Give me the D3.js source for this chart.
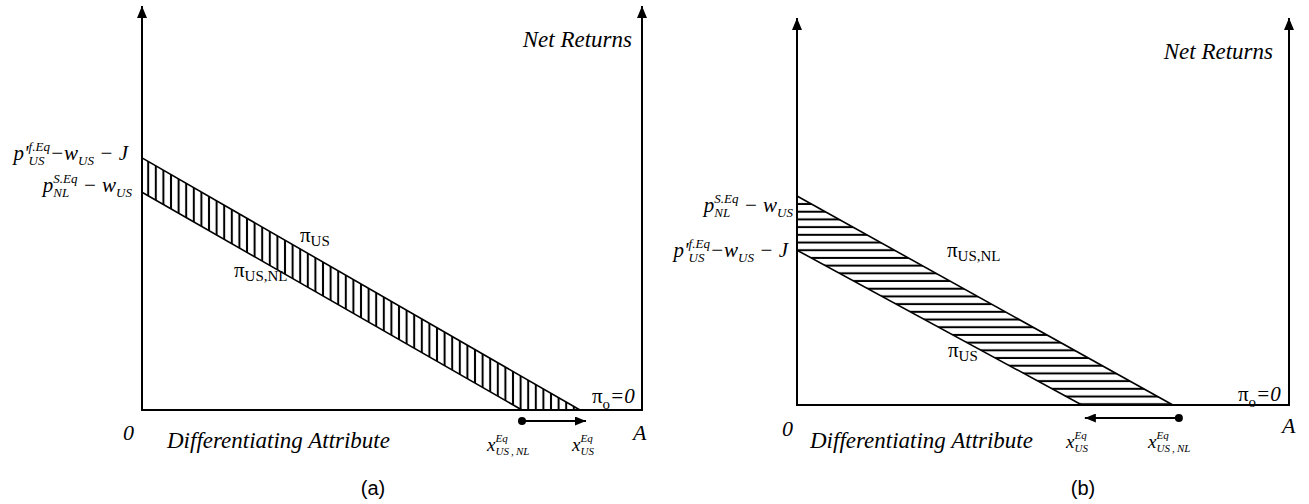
<!DOCTYPE html>
<html>
<head>
<meta charset="utf-8">
<script src="https://cdn.jsdelivr.net/npm/d3@7"></script>
<style>
  body { margin: 0; background: #fff; }
  svg { display: block; }
</style>
</head>
<body>
<svg id="chart" width="1309" height="504"></svg>
<script>
// values (share of axis length, 0..100)
const captions = ["(a)", "(b)"]
const axisLabels = ["Differentiating Attribute", "Net Returns"]
// vertical-axis intercepts: [pi_US, pi_US,NL]
const yIntercepts_a = [62.4, 53.9]
const yIntercepts_b = [40.0, 54.0]
// horizontal-axis intercepts: [pi_US, pi_US,NL]
const xIntercepts_a = [87.6, 76.0]
const xIntercepts_b = [57.9, 76.4]

const SERIF = "'Liberation Serif', 'Times New Roman', Tinos, 'DejaVu Serif', serif"
const SANS = "'Liberation Sans', Arial, Arimo, sans-serif"

const svg = d3.select("#chart").style("font-family", SERIF)
const defs = svg.append("defs")

function head(id, len, wid) {
    defs.append("marker")
        .attr("id", id)
        .attr("viewBox", `0 0 ${len} ${wid}`)
        .attr("refX", len).attr("refY", wid / 2)
        .attr("markerWidth", len).attr("markerHeight", wid)
        .attr("markerUnits", "userSpaceOnUse")
        .attr("orient", "auto")
      .append("path")
        .attr("d", `M0,0 L${len},${wid / 2} L0,${wid} Z`)
        .attr("fill", "#000")
}
head("axisHead", 12, 10)
head("moveHead", 11, 9)

const vh = defs.append("pattern")
    .attr("id", "vhatch").attr("patternUnits", "userSpaceOnUse")
    .attr("width", 7.6).attr("height", 10)
vh.append("line").attr("x1", 3.8).attr("x2", 3.8).attr("y1", 0).attr("y2", 10)
    .attr("stroke", "#000").attr("stroke-width", 2)

const hh = defs.append("pattern")
    .attr("id", "hhatch").attr("patternUnits", "userSpaceOnUse")
    .attr("width", 10).attr("height", 7.7)
hh.append("line").attr("y1", 3.8).attr("y2", 3.8).attr("x1", 0).attr("x2", 10)
    .attr("stroke", "#000").attr("stroke-width", 2)

function txt(g) {
    return g.append("text").style("font-family", SERIF).attr("fill", "#000")
}

// text made of pieces with stacked super/subscripts
function mathLabel(g, pieces, x, y, o) {
    const lab = g.append("g")
    let cx = 0
    pieces.forEach(p => {
        const t = txt(lab)
            .attr("x", cx).attr("y", 0)
            .attr("font-size", o.size)
            .attr("font-style", p.upright ? "normal" : "italic")
            .text(p.b)
        cx += t.node().getComputedTextLength()
        let w = 0
        if (p.sup) {
            const s = txt(lab)
                .attr("x", cx).attr("y", -o.size * 0.45)
                .attr("font-size", o.small)
                .attr("font-style", "italic")
                .text(p.sup)
            w = Math.max(w, s.node().getComputedTextLength())
        }
        if (p.sub) {
            const s = txt(lab)
                .attr("x", cx).attr("y", o.size * (p.subDrop || 0.22))
                .attr("font-size", o.small)
                .attr("font-style", p.upright ? "normal" : "italic")
                .text(p.sub)
            w = Math.max(w, s.node().getComputedTextLength())
        }
        cx += w
    })
    const dx = o.anchor === "end" ? x - cx : o.anchor === "middle" ? x - cx / 2 : x
    lab.attr("transform", `translate(${dx},${y})`)
}

const panels = [
    { frame: { left: 142, right: 642, top: 6, bottom: 410 },
      yI: yIntercepts_a, xI: xIntercepts_a, hatch: "url(#vhatch)", caption: captions[0],
      capX: 373, netEnd: 632, netY: 47, zeroX: 123, zeroY: 440, aX: 633, aY: 440,
      diffX: 167, diffY: 448, piOX: 592, piOY: 403, arrowY: 421, xlabY: 451 },
    { frame: { left: 797, right: 1289, top: 18, bottom: 405 },
      yI: yIntercepts_b, xI: xIntercepts_b, hatch: "url(#hhatch)", caption: captions[1],
      capX: 1083, netEnd: 1273, netY: 59, zeroX: 782, zeroY: 436, aX: 1282, aY: 433,
      diffX: 810, diffY: 448, piOX: 1238, piOY: 401, arrowY: 418, xlabY: 448 }
]

const pUS = [{ b: "p'", sup: "f.Eq", sub: "US" }, { b: "\u2212w", sub: "US" }, { b: "\u00A0\u2212\u00A0J" }]
const pNL = [{ b: "p", sup: "S.Eq", sub: "NL" }, { b: "\u00A0\u2212\u00A0w", sub: "US" }]
const xUS = [{ b: "x", sup: "Eq", sub: "US" }]
const xUSNL = [{ b: "x", sup: "Eq", sub: "US\u2009,\u2009NL" }]
const piUS = [{ b: "\u03C0", sub: "US", upright: true, subDrop: 0.18 }]
const piUSNL = [{ b: "\u03C0", sub: "US,NL", upright: true, subDrop: 0.18 }]
const piO = [{ b: "\u03C0", sub: "o", upright: true, subDrop: 0.3 }, { b: "=0" }]

const mathOpts = { size: 21, small: 13, anchor: "end" }
const xOpts = { size: 19, small: 11, anchor: "start" }
const piOpts = { size: 21, small: 15, anchor: "start" }
const plainSize = 23

panels.forEach((p, i) => {
    const g = svg.append("g")
    const x = d3.scaleLinear().domain([0, 100]).range([p.frame.left, p.frame.right])
    const y = d3.scaleLinear().domain([0, 100]).range([p.frame.bottom, p.frame.top])
    const line = d3.line().x(d => x(d[0])).y(d => y(d[1]))

    // hatched band between pi_US and pi_US,NL
    const band = [[0, p.yI[0]], [p.xI[0], 0], [p.xI[1], 0], [0, p.yI[1]]]
    g.append("path")
        .attr("d", line(band) + "Z")
        .attr("fill", p.hatch)
        .attr("stroke", "none")

    for (let k = 0; k < 2; k++) {
        g.append("path")
            .attr("d", line([[0, p.yI[k]], [p.xI[k], 0]]))
            .attr("fill", "none").attr("stroke", "#000").attr("stroke-width", 1.6)
    }

    // axes
    g.append("path")
        .attr("d", line([[0, 0], [100, 0]]))
        .attr("stroke", "#000").attr("stroke-width", 2).attr("fill", "none")
    ;[0, 100].forEach(v => {
        g.append("line")
            .attr("x1", x(v)).attr("x2", x(v)).attr("y1", y(0) + 1).attr("y2", y(100))
            .attr("stroke", "#000").attr("stroke-width", 2).attr("marker-end", "url(#axisHead)")
    })

    // equilibrium shift arrow
    const from = i === 0 ? x(p.xI[1]) : x(p.xI[1]) + 6
    const to = i === 0 ? x(p.xI[0]) + 6 : x(p.xI[0]) + 3
    g.append("line")
        .attr("x1", from).attr("x2", to).attr("y1", p.arrowY).attr("y2", p.arrowY)
        .attr("stroke", "#000").attr("stroke-width", 2).attr("marker-end", "url(#moveHead)")
    g.append("circle").attr("cx", from).attr("cy", p.arrowY).attr("r", 4).attr("fill", "#000")

    // plain labels
    txt(g).attr("x", p.netEnd).attr("y", p.netY).attr("text-anchor", "end")
        .attr("font-size", plainSize).attr("font-style", "italic").text(axisLabels[1])
    txt(g).attr("x", p.diffX).attr("y", p.diffY)
        .attr("font-size", plainSize).attr("font-style", "italic").text(axisLabels[0])
    txt(g).attr("x", p.zeroX).attr("y", p.zeroY)
        .attr("font-size", 22).attr("font-style", "italic").text("0")
    txt(g).attr("x", p.aX).attr("y", p.aY)
        .attr("font-size", 22).attr("font-style", "italic").text("A")
    g.append("text").attr("x", p.capX).attr("y", 495).attr("text-anchor", "middle")
        .style("font-family", SANS)
        .attr("font-size", 20).text(p.caption)

    mathLabel(g, piO, p.piOX, p.piOY, piOpts)

    if (i === 0) {
        mathLabel(g, pUS, 128, 160, mathOpts)
        mathLabel(g, pNL, 132, 192, mathOpts)
        mathLabel(g, piUS, 300, 242, piOpts)
        mathLabel(g, piUSNL, 234, 277, piOpts)
        mathLabel(g, xUSNL, 487, p.xlabY, xOpts)
        mathLabel(g, xUS, 572, p.xlabY, xOpts)
    } else {
        mathLabel(g, pNL, 793, 212, mathOpts)
        mathLabel(g, pUS, 788, 257, mathOpts)
        mathLabel(g, piUSNL, 947, 257, piOpts)
        mathLabel(g, piUS, 948, 357, piOpts)
        mathLabel(g, xUS, 1066, p.xlabY, xOpts)
        mathLabel(g, xUSNL, 1148, p.xlabY, xOpts)
    }
})
</script>
</body>
</html>
